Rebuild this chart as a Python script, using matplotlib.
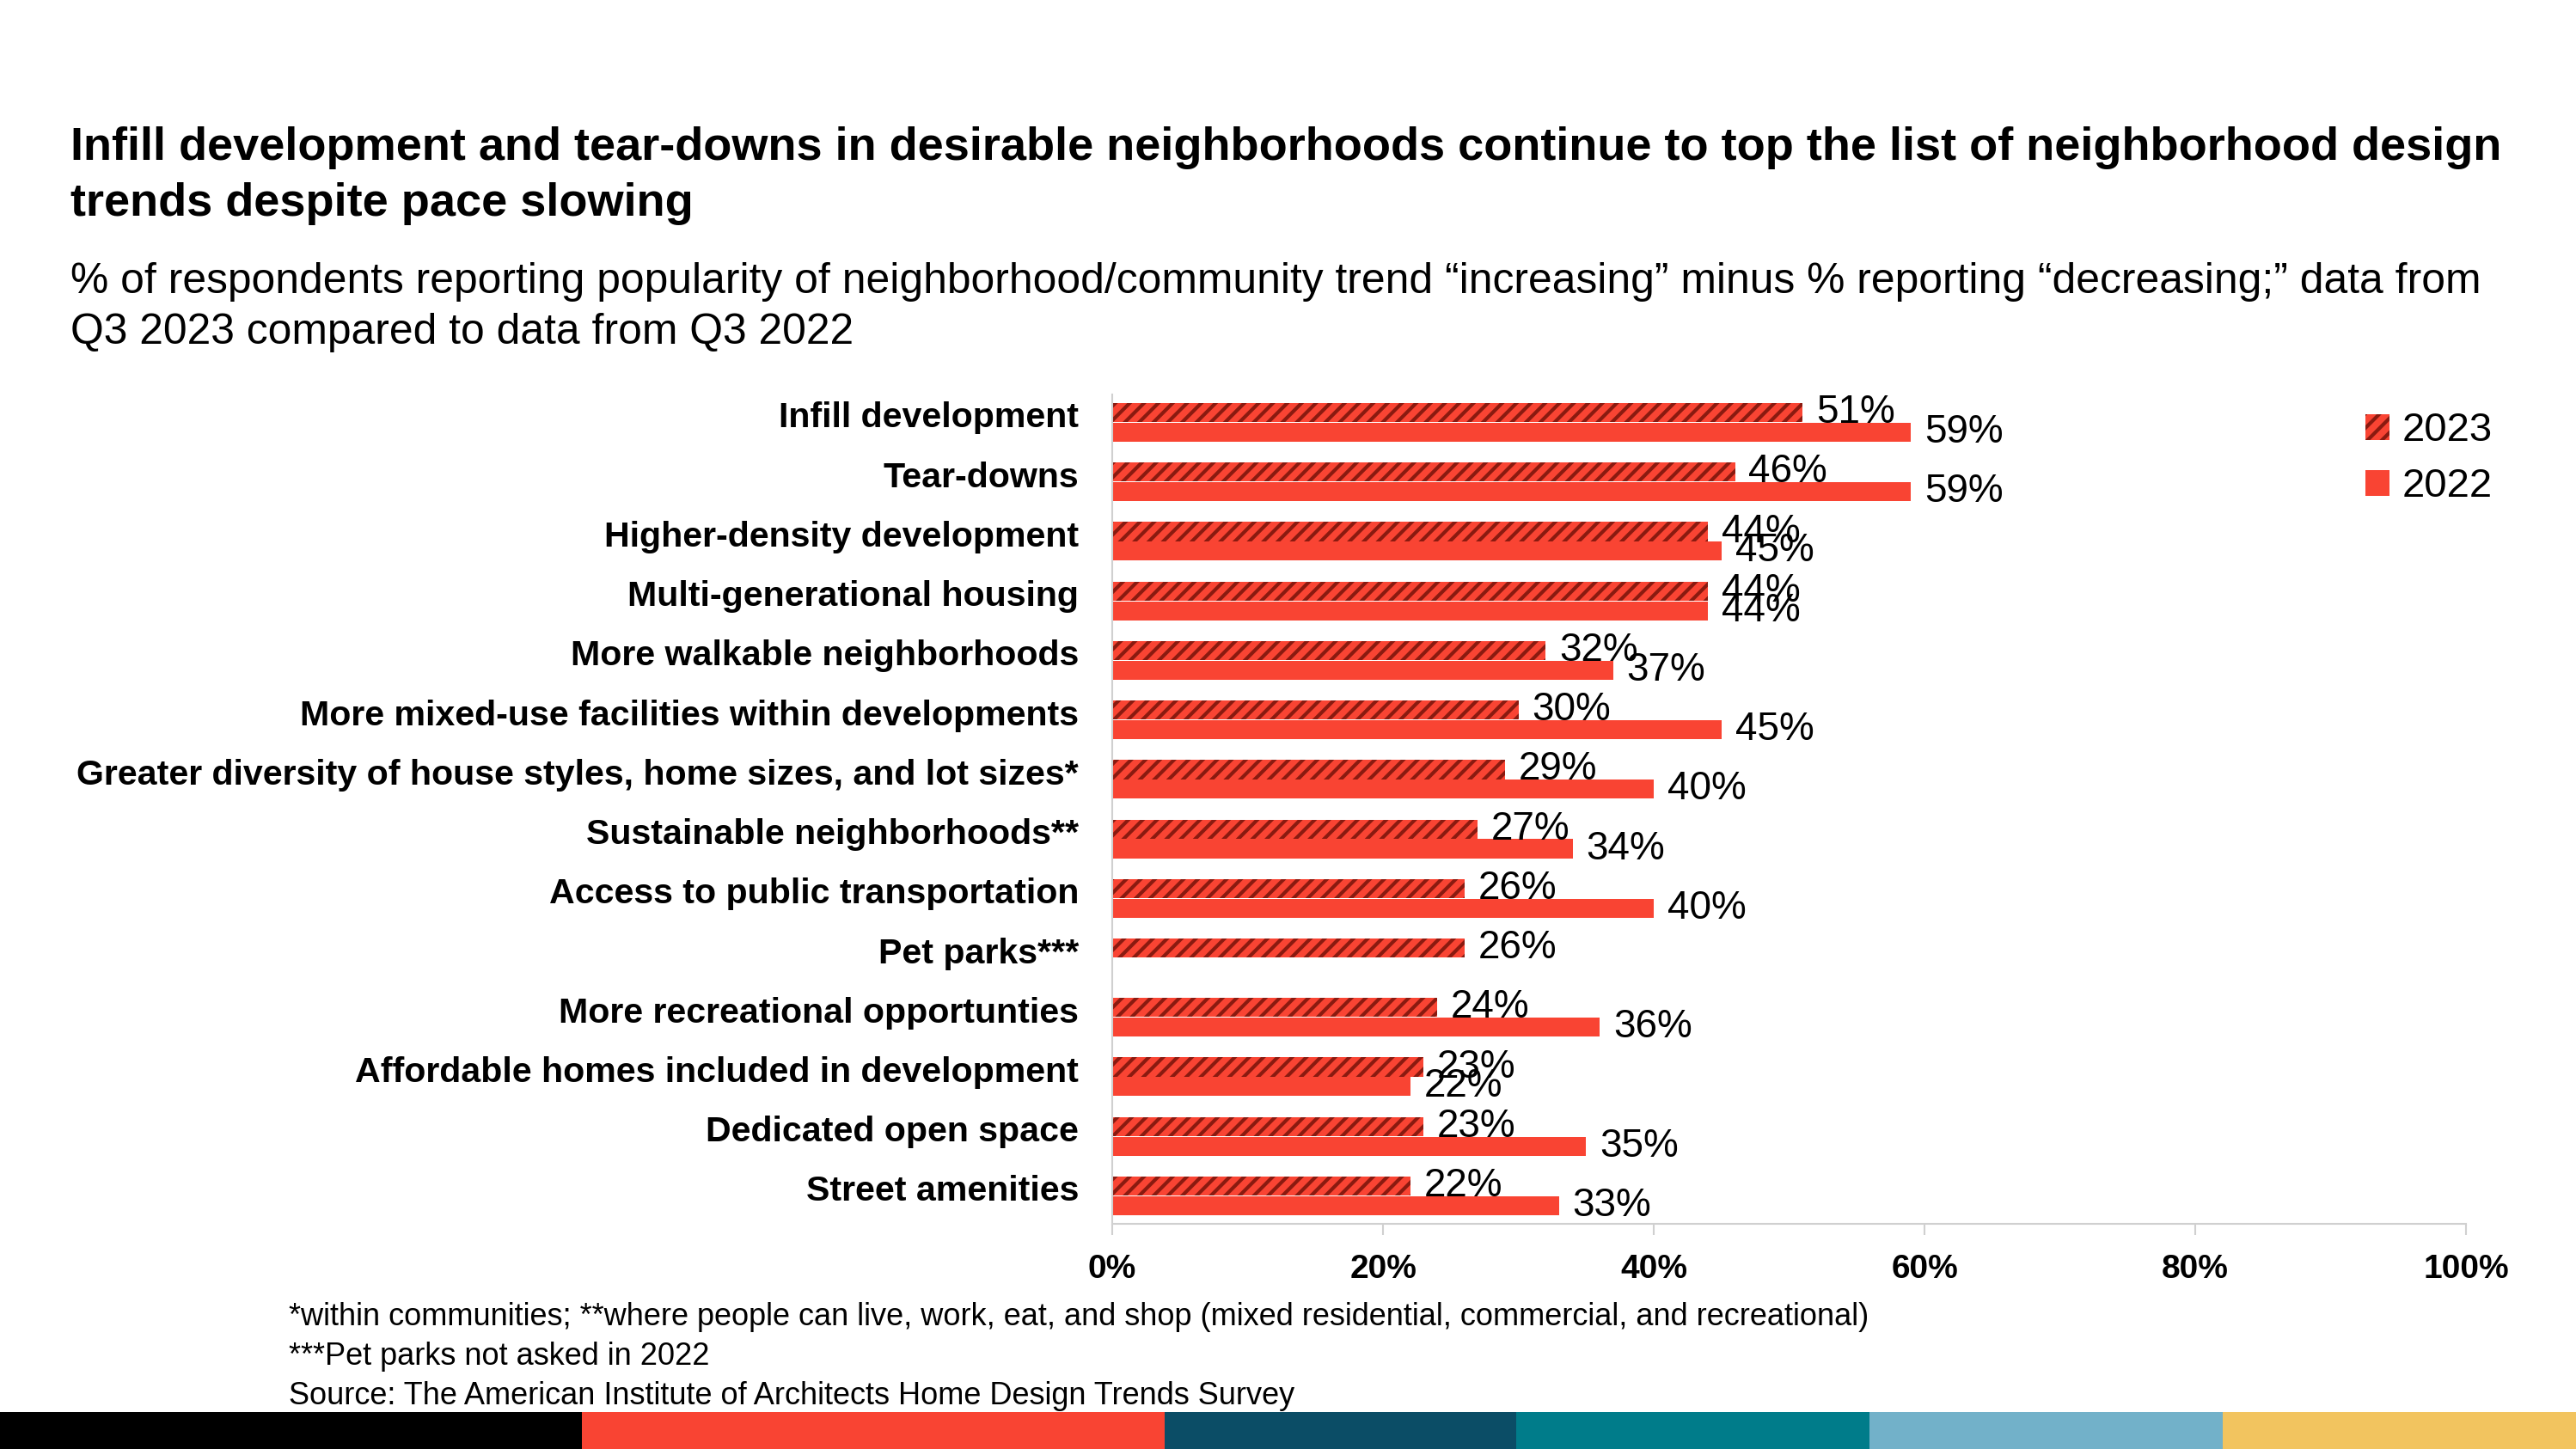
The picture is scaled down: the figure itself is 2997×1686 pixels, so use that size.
import numpy as np
import matplotlib
matplotlib.use("Agg")
import matplotlib.pyplot as plt
from matplotlib.patches import Rectangle, Patch

plt.rcParams['font.family'] = ['Liberation Sans', 'DejaVu Sans']
plt.rcParams['hatch.linewidth'] = 3.0

categories = [
    "Infill development",
    "Tear-downs",
    "Higher-density development",
    "Multi-generational housing",
    "More walkable neighborhoods",
    "More mixed-use facilities within developments",
    "Greater diversity of house styles, home sizes, and lot sizes*",
    "Sustainable neighborhoods**",
    "Access to public transportation",
    "Pet parks***",
    "More recreational opportunties",
    "Affordable homes included in development",
    "Dedicated open space",
    "Street amenities",
]
vals_2023 = [51, 46, 44, 44, 32, 30, 29, 27, 26, 26, 24, 23, 23, 22]
vals_2022 = [59, 59, 45, 44, 37, 45, 40, 34, 40, np.nan, 36, 22, 35, 33]
xticks = [0, 20, 40, 60, 80, 100]

red = '#F94433'
dark = '#8A1A10'
band_colors = ['#000000', '#F94433', '#0B4D66', '#007C8A', '#72B1C9', '#F2C45F']
band_edges = [0, 677, 1355, 1764, 2175, 2586, 2997]

fig = plt.figure(figsize=(29.97, 16.86), dpi=100)
ax = fig.add_axes([0.4318, 0.1554, 0.9573 - 0.4318, 0.7278 - 0.1554])

y = np.arange(len(categories))
h = 0.32
off = 0.165
ax.barh(y - off, vals_2023, height=h, color=red, edgecolor=dark, linewidth=0, hatch='//')
ax.barh(y + off, vals_2022, height=h, color=red, linewidth=0)

for i in range(len(categories)):
    ax.text(vals_2023[i] + 1.0, y[i] - off, f"{vals_2023[i]}%", va='center', ha='left', fontsize=33)
    if not np.isnan(vals_2022[i]):
        ax.text(vals_2022[i] + 1.0, y[i] + off, f"{int(vals_2022[i])}%", va='center', ha='left', fontsize=33)

ax.set_xlim(0, 100)
ax.set_ylim(len(categories) - 0.53, -0.47)
ax.set_yticks(y - 0.13)
ax.set_yticklabels(categories, fontsize=29.6, fontweight='bold')
ax.tick_params(axis='y', length=0, pad=28)
ax.set_xticks(xticks)
ax.set_xticklabels([f"{t}%" for t in xticks], fontsize=28, fontweight='bold')
ax.tick_params(axis='x', length=9, width=1.5, color='#D0D0D0', pad=16)
for s in ['top', 'right']:
    ax.spines[s].set_visible(False)
for s in ['left', 'bottom']:
    ax.spines[s].set_color('#D0D0D0')
    ax.spines[s].set_linewidth(1.5)

handles = [Patch(facecolor=red, edgecolor=dark, linewidth=0, hatch='//', label='2023'),
           Patch(facecolor=red, linewidth=0, label='2022')]
fig.legend(handles=handles, loc='upper left', bbox_to_anchor=(0.904, 0.741), frameon=False,
           fontsize=34, handlelength=0.6, handleheight=0.6, handletextpad=0.3, labelspacing=0.45)

fig.text(0.0274, 1 - 172 / 1686, "Infill development and tear-downs in desirable neighborhoods continue to top the list of neighborhood design",
         fontsize=39, fontweight='bold', va='center', ha='left')
fig.text(0.0274, 1 - 237 / 1686, "trends despite pace slowing",
         fontsize=39, fontweight='bold', va='center', ha='left')
fig.text(0.0274, 1 - 328 / 1686, "% of respondents reporting popularity of neighborhood/community trend \u201cincreasing\u201d minus % reporting \u201cdecreasing;\u201d data from",
         fontsize=35.8, va='center', ha='left')
fig.text(0.0274, 1 - 387 / 1686, "Q3 2023 compared to data from Q3 2022",
         fontsize=35.8, va='center', ha='left')

notes = ["*within communities; **where people can live, work, eat, and shop (mixed residential, commercial, and recreational)",
         "***Pet parks not asked in 2022",
         "Source: The American Institute of Architects Home Design Trends Survey"]
for k, n in enumerate(notes):
    fig.text(336 / 2997, 1 - (1533 + 46 * k) / 1686, n, fontsize=26, va='center', ha='left')

for c, a, b in zip(band_colors, band_edges[:-1], band_edges[1:]):
    fig.patches.append(Rectangle((a / 2997, 0), (b - a) / 2997, 43 / 1686, transform=fig.transFigure,
                                 facecolor=c, edgecolor='none'))

fig.savefig("out.png", dpi=100)
